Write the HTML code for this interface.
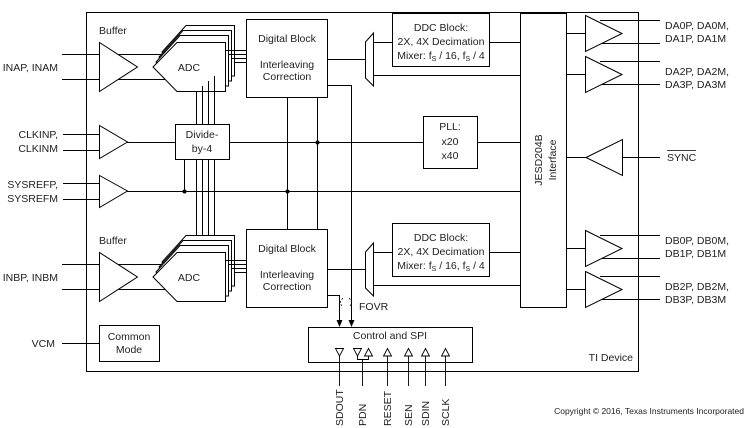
<!DOCTYPE html>
<html><head><style>
html,body{margin:0;padding:0;background:#fff;}
svg{display:block;}
text{font-family:"Liberation Sans",sans-serif;font-size:10.5px;fill:#222;}
</style></head><body>
<svg width="746" height="428" viewBox="0 0 746 428" xmlns="http://www.w3.org/2000/svg" stroke="#000" stroke-width="1" fill="none">
<rect x="86.5" y="12.5" width="552" height="359"/>

<g id="chanA">
<line x1="62" y1="54.5" x2="170" y2="54.5"/>
<line x1="62" y1="79.5" x2="170" y2="79.5"/>
<polygon points="99.5,42.5 137.5,67 99.5,91.5" fill="#fff"/>
<polygon points="162,52 186,25.5 234.5,25.5 234.5,76 186,76" fill="#fff"/>
<polygon points="159,57 183,30.5 231.5,30.5 231.5,81 183,81" fill="#fff"/>
<polygon points="156,62 180,35.5 228.5,35.5 228.5,86 180,86" fill="#fff"/>
<polygon points="153,67 177,42.5 225.5,42.5 225.5,91.5 177,91.5" fill="#fff"/>
<line x1="225" y1="50.5" x2="246" y2="50.5"/>
<line x1="228" y1="54.5" x2="246" y2="54.5"/>
<line x1="231" y1="58.5" x2="246" y2="58.5"/>
<line x1="234" y1="62.5" x2="246" y2="62.5"/>
<rect x="246.5" y="19.5" width="81" height="78" fill="#fff"/>
<line x1="327" y1="59.5" x2="365" y2="59.5"/>
<polygon points="365.5,42 373.5,33 373.5,86 365.5,78" fill="#fff"/>
<line x1="373" y1="42.5" x2="393" y2="42.5"/>
<rect x="392.5" y="13.5" width="97" height="53"/>
<line x1="489" y1="42.5" x2="520" y2="42.5"/>
<line x1="373" y1="75.5" x2="520" y2="75.5"/>
</g>
<g id="outA">
<line x1="566" y1="33.5" x2="586" y2="33.5"/>
<line x1="566" y1="74.5" x2="586" y2="74.5"/>
<line x1="600" y1="20.5" x2="660" y2="20.5"/>
<line x1="600" y1="43.5" x2="660" y2="43.5"/>
<line x1="600" y1="61.5" x2="660" y2="61.5"/>
<line x1="600" y1="84.5" x2="660" y2="84.5"/>
<polygon points="585.5,15.5 622,33.5 585.5,51.5" fill="#fff"/>
<polygon points="585.5,56.5 622,74.5 585.5,92.5" fill="#fff"/>
</g>
<text x="99" y="34" stroke="none">Buffer</text>
<text x="189" y="71" text-anchor="middle" stroke="none">ADC</text>
<text x="287" y="42" text-anchor="middle" stroke="none">Digital Block</text>
<text x="287" y="68" text-anchor="middle" stroke="none">Interleaving</text>
<text x="287" y="80" text-anchor="middle" stroke="none">Correction</text>
<text x="441" y="31" text-anchor="middle" stroke="none">DDC Block:</text>
<text x="441" y="45" text-anchor="middle" stroke="none">2X, 4X Decimation</text>
<text x="441" y="59" text-anchor="middle" stroke="none">Mixer: f<tspan font-size="7" dy="2">S</tspan><tspan dy="-2"> / 16, f</tspan><tspan font-size="7" dy="2">S</tspan><tspan dy="-2"> / 4</tspan></text>
<text x="58" y="71" text-anchor="end" stroke="none">INAP, INAM</text>
<text x="665" y="29" stroke="none">DA0P, DA0M,</text>
<text x="665" y="42" stroke="none">DA1P, DA1M</text>
<text x="665" y="75" stroke="none">DA2P, DA2M,</text>
<text x="665" y="88" stroke="none">DA3P, DA3M</text>

<use href="#chanA" transform="translate(0,210)"/>
<use href="#outA" transform="translate(0,215)"/>
<text x="99" y="244" stroke="none">Buffer</text>
<text x="189" y="281" text-anchor="middle" stroke="none">ADC</text>
<text x="287" y="252" text-anchor="middle" stroke="none">Digital Block</text>
<text x="287" y="278" text-anchor="middle" stroke="none">Interleaving</text>
<text x="287" y="290" text-anchor="middle" stroke="none">Correction</text>
<text x="441" y="241" text-anchor="middle" stroke="none">DDC Block:</text>
<text x="441" y="255" text-anchor="middle" stroke="none">2X, 4X Decimation</text>
<text x="441" y="269" text-anchor="middle" stroke="none">Mixer: f<tspan font-size="7" dy="2">S</tspan><tspan dy="-2"> / 16, f</tspan><tspan font-size="7" dy="2">S</tspan><tspan dy="-2"> / 4</tspan></text>
<text x="58" y="281" text-anchor="end" stroke="none">INBP, INBM</text>
<text x="665" y="244" stroke="none">DB0P, DB0M,</text>
<text x="665" y="257" stroke="none">DB1P, DB1M</text>
<text x="665" y="290" stroke="none">DB2P, DB2M,</text>
<text x="665" y="303" stroke="none">DB3P, DB3M</text>

<line x1="196.5" y1="91" x2="196.5" y2="236"/>
<line x1="202.5" y1="86" x2="202.5" y2="236"/>
<line x1="208.5" y1="81" x2="208.5" y2="236"/>
<line x1="214.5" y1="76" x2="214.5" y2="236"/>
<rect x="175.5" y="124.5" width="54" height="35" fill="#fff"/>
<text x="202" y="138" text-anchor="middle" stroke="none">Divide-</text>
<text x="202" y="152" text-anchor="middle" stroke="none">by-4</text>

<line x1="63" y1="134.5" x2="100" y2="134.5"/>
<line x1="63" y1="150.5" x2="100" y2="150.5"/>
<polygon points="99.5,125.5 127.5,142 99.5,158.5" fill="#fff"/>
<line x1="127" y1="142.5" x2="175" y2="142.5"/>
<line x1="229" y1="142.5" x2="423" y2="142.5"/>
<line x1="63" y1="183.5" x2="100" y2="183.5"/>
<line x1="63" y1="199.5" x2="100" y2="199.5"/>
<polygon points="99.5,175.5 127.5,191 99.5,207.5" fill="#fff"/>
<line x1="127" y1="191.5" x2="520" y2="191.5"/>
<line x1="184.5" y1="159" x2="184.5" y2="191"/>
<line x1="287.5" y1="97" x2="287.5" y2="229"/>
<line x1="317.5" y1="97" x2="317.5" y2="229"/>
<circle cx="184.5" cy="191.5" r="2" fill="#000" stroke="none"/>
<circle cx="287.5" cy="191.5" r="2" fill="#000" stroke="none"/>
<circle cx="317.5" cy="142.5" r="2" fill="#000" stroke="none"/>
<text x="58" y="138" text-anchor="end" stroke="none">CLKINP,</text>
<text x="58" y="152" text-anchor="end" stroke="none">CLKINM</text>
<text x="58" y="188" text-anchor="end" stroke="none">SYSREFP,</text>
<text x="58" y="202" text-anchor="end" stroke="none">SYSREFM</text>

<rect x="423.5" y="116.5" width="54" height="52" fill="#fff"/>
<line x1="477" y1="142.5" x2="520" y2="142.5"/>
<text x="450" y="130" text-anchor="middle" stroke="none">PLL:</text>
<text x="450" y="145" text-anchor="middle" stroke="none">x20</text>
<text x="450" y="159" text-anchor="middle" stroke="none">x40</text>

<rect x="520.5" y="13.5" width="46" height="294" fill="#fff"/>
<text transform="translate(542,160) rotate(-90)" text-anchor="middle" stroke="none">JESD204B</text>
<text transform="translate(556,160) rotate(-90)" text-anchor="middle" stroke="none">Interface</text>

<line x1="566" y1="157.5" x2="586" y2="157.5"/>
<line x1="622" y1="157.5" x2="660" y2="157.5"/>
<polygon points="586,157.5 622.5,139.5 622.5,175.5" fill="#fff"/>
<text x="667" y="161" stroke="none">SYNC</text>
<line x1="667" y1="150.5" x2="696" y2="150.5" stroke-width="0.8"/>

<line x1="327" y1="85.5" x2="351.5" y2="85.5"/>
<line x1="351.5" y1="85" x2="351.5" y2="321"/>
<line x1="327" y1="295.5" x2="339.5" y2="295.5"/>
<line x1="339.5" y1="295" x2="339.5" y2="321"/>
<polygon points="336.5,320 342.5,320 339.5,327" fill="#000" stroke="none"/>
<polygon points="348.5,320 354.5,320 351.5,327" fill="#000" stroke="none"/>
<path d="M343,298 Q338,303 343,307 M349,298 Q354,303 349,307" stroke-width="0.8" stroke-dasharray="2,1.5"/>
<text x="359" y="310" stroke="none">FOVR</text>

<rect x="308.5" y="327.5" width="164" height="35"/>
<text x="390" y="339" text-anchor="middle" stroke="none">Control and SPI</text>
<g stroke-width="0.9">
<polygon points="335.5,348.5 343.5,348.5 339.5,356"/>
<line x1="339.5" y1="356" x2="339.5" y2="386"/>
<polygon points="353.5,348.5 361.5,348.5 357.5,356"/>
<polygon points="364.5,356 372.5,356 368.5,348.5"/>
<path d="M357.5,356 V359.5 H368.5 V356"/>
<line x1="362.5" y1="359" x2="362.5" y2="386"/>
<polygon points="383.5,356 391.5,356 387.5,348.5"/><line x1="387.5" y1="356" x2="387.5" y2="386"/>
<polygon points="404.5,356 412.5,356 408.5,348.5"/><line x1="408.5" y1="356" x2="408.5" y2="386"/>
<polygon points="421.5,356 429.5,356 425.5,348.5"/><line x1="425.5" y1="356" x2="425.5" y2="386"/>
<polygon points="441.5,356 449.5,356 445.5,348.5"/><line x1="445.5" y1="356" x2="445.5" y2="386"/>
</g>
<text transform="translate(343,426) rotate(-90)" stroke="none">SDOUT</text>
<text transform="translate(366,426) rotate(-90)" stroke="none">PDN</text>
<text transform="translate(391,426) rotate(-90)" stroke="none">RESET</text>
<text transform="translate(412,426) rotate(-90)" stroke="none">SEN</text>
<text transform="translate(429,426) rotate(-90)" stroke="none">SDIN</text>
<text transform="translate(449,426) rotate(-90)" stroke="none">SCLK</text>

<line x1="62" y1="343.5" x2="99" y2="343.5"/>
<rect x="99.5" y="325.5" width="60" height="36"/>
<text x="129" y="340" text-anchor="middle" stroke="none">Common</text>
<text x="129" y="353" text-anchor="middle" stroke="none">Mode</text>
<text x="55" y="347" text-anchor="end" stroke="none">VCM</text>

<text x="633" y="361" text-anchor="end" stroke="none">TI Device</text>
<text x="744" y="414" text-anchor="end" stroke="none" style="font-size:8.5px">Copyright © 2016, Texas Instruments Incorporated</text>
</svg>
</body></html>
